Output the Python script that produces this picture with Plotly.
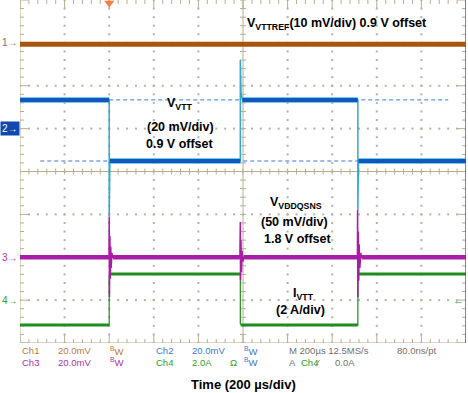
import plotly.graph_objects as go

# ---------------- data (time in µs, 200 µs/div, trigger at 0; amplitude in screen divisions) ----
ch1_t = [-400, 1600]
ch1_v = [2.97, 2.97]

ch2_t = [-400, 0, 0, 3, 588, 588, 591, 597, 1115, 1115, 1118, 1600]
ch2_v = [1.67, 1.67, -1.06, 0.245, 0.245, 2.6, 1.85, 1.67, 1.67, -0.9, 0.245, 0.245]

ch3_t = [-400, -1, 0, 1, 3, 5, 7, 9, 12, 16,
         586, 588, 589, 591, 593, 596, 599, 603,
         1113, 1114, 1115, 1117, 1119, 1121, 1124, 1128, 1132, 1600]
ch3_v = [-2.0, -2.0, -1.06, -2.93, -1.5, -2.5, -1.75, -2.25, -1.9, -2.0,
         -2.0, -1.18, -2.53, -1.6, -2.35, -1.85, -2.1, -2.0,
         -2.0, -0.9, -2.93, -1.4, -2.55, -1.7, -2.25, -1.9, -2.0, -2.0]

ch4_t = [-400, 0, 0, 3, 588, 588, 592, 1115, 1115, 1118, 1600]
ch4_v = [-3.58, -3.58, -2.45, -2.39, -2.39, -3.55, -3.58, -3.58, -2.45, -2.39, -2.39]

ref_hi_t = [0, 1520]
ref_hi_v = [1.67, 1.67]
ref_lo_t = [-309, 1574]
ref_lo_v = [0.245, 0.245]

ch_markers = [("1", 3.0), ("2", 1.0), ("3", -2.0), ("4", -3.0)]

row1 = [("Ch1", 20, "#C07838"), ("20.0mV", 56, "#C07838"), ("<sup>B</sup>W", 108, "#C07838"),
        ("Ch2", 154, "#3C78D0"), ("20.0mV", 190, "#3C78D0"), ("<sup>B</sup>W", 242, "#3C78D0"),
        ("M 200µs 12.5MS/s", 287, "#707070"), ("80.0ns/pt", 395, "#707070")]
row2 = [("Ch3", 20, "#B030B0"), ("20.0mV", 56, "#B030B0"), ("<sup>B</sup>W", 108, "#B030B0"),
        ("Ch4", 154, "#30A030"), ("2.0A", 190, "#30A030"), ("Ω", 228, "#30A030"),
        ("<sup>B</sup>W", 242, "#3C78D0"), ("A", 287, "#707070"), ("Ch4", 299, "#30A030"),
        ("⁄", 313, "#707070"), ("0.0A", 333, "#707070")]

# ---------------- geometry helpers ----------------
W, H = 468, 393
L, R, T, B = 20, 2, 0, 50
PW, PH = W - L - R, H - T - B
X0, X1 = -400, 1600
Y0, Y1 = -4, 4
upx = (X1 - X0) / PW      # µs per pixel
vpx = (Y1 - Y0) / PH      # div per pixel

def tx(px):
    return X0 + (px - L) * upx

def dy(py):
    return Y1 - (py - T) * vpx

def paper_x(px):
    return (px - L) / PW

def paper_y(py):
    return (T + PH - py) / PH

def flat_parts(ts, vs, min_dt=20):
    """Keep only the long (settled) segments of a trace, for the thick noisy band."""
    ox, oy = [], []
    for i in range(len(ts) - 1):
        if ts[i + 1] - ts[i] >= min_dt:
            ox += [ts[i], ts[i + 1], None]
            oy += [vs[i], vs[i + 1], None]
    return ox, oy

fig = go.Figure()

# grid dots
gx, gy = [], []
for j in [-3, -2, -1, 1, 2, 3]:
    for i in range(51):
        gx.append(X0 + i * 40); gy.append(j)
for k in [1, 2, 3, 4, 6, 7, 8, 9]:
    for m in range(41):
        gx.append(X0 + k * 200); gy.append(Y0 + m * 0.2)
fig.add_trace(go.Scatter(x=gx, y=gy, mode="markers",
                         marker=dict(size=2, color="#B4B0A4", symbol="square", line=dict(width=0)),
                         hoverinfo="skip"))

# frame + ticks
tick_col = "#B8AE90"
sx, sy = [], []
def seg(x0, y0, x1, y1):
    sx.extend([x0, x1, None]); sy.extend([y0, y1, None])

seg(X0, 0, X1, 0)
seg(600, Y0, 600, Y1)
seg(X0, Y0, X0, Y1)
seg(X0, Y0, X1, Y0)
for i in range(51):
    x = X0 + i * 40
    major = (i % 5 == 0)
    ln = 8 if major else 4
    seg(x, -3 * vpx, x, 3 * vpx)
    seg(x, Y0, x, Y0 + ln * vpx)
    seg(x, Y1, x, Y1 - ln * vpx)
for m in range(41):
    y = Y0 + m * 0.2
    major = (m % 5 == 0)
    ln = 8 if major else 4
    seg(600 - 3 * upx, y, 600 + 3 * upx, y)
    seg(X0, y, X0 + ln * upx, y)
    seg(X1, y, X1 - ln * upx, y)
fig.add_trace(go.Scatter(x=sx, y=sy, mode="lines", line=dict(color=tick_col, width=1),
                         hoverinfo="skip"))
fig.add_trace(go.Scatter(x=[X1, X1], y=[Y0, Y1], mode="lines",
                         line=dict(color="#6A6248", width=1.5), hoverinfo="skip"))

# reference dashed lines
for rt, rv in [(ref_hi_t, ref_hi_v), (ref_lo_t, ref_lo_v)]:
    fig.add_trace(go.Scatter(x=rt, y=rv, mode="lines",
                             line=dict(color="#3A78D8", width=1, dash="4px,3px"), hoverinfo="skip"))

# traces: thin line for full waveform (edges, spikes), thick band for settled parts
fig.add_trace(go.Scatter(x=ch1_t, y=ch1_v, mode="lines", line=dict(color="#A8560E", width=5)))

fig.add_trace(go.Scatter(x=ch4_t, y=ch4_v, mode="lines", line=dict(color="#1E8C1E", width=1.2)))
fx, fy = flat_parts(ch4_t, ch4_v)
fig.add_trace(go.Scatter(x=fx, y=fy, mode="lines", line=dict(color="#1E8C1E", width=3)))

fig.add_trace(go.Scatter(x=ch2_t, y=ch2_v, mode="lines", line=dict(color="#2FA8D0", width=1.5)))
fx, fy = flat_parts(ch2_t, ch2_v)
fig.add_trace(go.Scatter(x=fx, y=fy, mode="lines", line=dict(color="#3CC0E4", width=5.5)))
fig.add_trace(go.Scatter(x=fx, y=fy, mode="lines", line=dict(color="#1456BE", width=4)))

fig.add_trace(go.Scatter(x=ch3_t, y=ch3_v, mode="lines", line=dict(color="#A81CA8", width=1.5)))
fx, fy = flat_parts(ch3_t, ch3_v)
fig.add_trace(go.Scatter(x=fx, y=fy, mode="lines", line=dict(color="#A81CA8", width=4.5)))

# trigger position marker
fig.add_trace(go.Scatter(x=[0], y=[Y1 - 3 * vpx], mode="markers", cliponaxis=False,
                         marker=dict(symbol="triangle-down", size=9, color="#FF8040")))

ann = []
bold = dict(family="Liberation Sans, Arial, sans-serif", size=12.5, color="black")

def txt(text, px, py, anchor="center"):
    ann.append(dict(x=tx(px), y=dy(py), xref="x", yref="y", text=text, showarrow=False,
                    xanchor=anchor, yanchor="middle", font=bold))

txt("<b>V<sub>VTTREF</sub>(10 mV/div) 0.9 V offset</b>", 245, 24, "left")
txt("<b>V<sub>VTT</sub></b>", 180, 104)
txt("<b>(20 mV/div)</b>", 180, 127)
txt("<b>0.9 V offset</b>", 180, 144)
txt("<b>V<sub>VDDQSNS</sub></b>", 296, 203)
txt("<b>(50 mV/div)</b>", 294, 222)
txt("<b>1.8 V offset</b>", 298, 239)
txt("<b>I<sub>VTT</sub></b>", 303, 294)
txt("<b>(2 A/div)</b>", 300, 310)

# channel ground markers
mcol = {"1": "#707070", "3": "#B030B0", "4": "#30A030"}
for name, lvl in ch_markers:
    if name == "2":
        ann.append(dict(x=-0.0005, y=lvl, xref="paper", yref="y", text="2→", showarrow=False,
                        xanchor="right", yanchor="middle", bgcolor="#1048B0", borderpad=1,
                        font=dict(family="Liberation Sans, Arial", size=10, color="white")))
    else:
        ann.append(dict(x=0, y=lvl, xref="paper", yref="y", text=name + "→", showarrow=False,
                        xanchor="right", yanchor="middle",
                        font=dict(family="Liberation Sans, Arial", size=10, color=mcol[name])))
ann.append(dict(x=1, y=-3.0, xref="paper", yref="y", text="←", showarrow=False,
                xanchor="right", yanchor="middle",
                font=dict(family="Liberation Sans, Arial", size=11, color="#30A030")))

small = "Liberation Sans, Arial, sans-serif"
for items, py in [(row1, 351), (row2, 362)]:
    for text, px, col in items:
        ann.append(dict(x=paper_x(px), y=paper_y(py), xref="paper", yref="paper", text=text,
                        showarrow=False, xanchor="left", yanchor="middle",
                        font=dict(family=small, size=9.5, color=col)))

ann.append(dict(x=paper_x(243), y=paper_y(385), xref="paper", yref="paper",
                text="<b>Time (200 µs/div)</b>", showarrow=False, xanchor="center", yanchor="middle",
                font=dict(family=small, size=13, color="black")))

fig.update_layout(
    width=W, height=H, margin=dict(l=L, r=R, t=T, b=B),
    paper_bgcolor="white", plot_bgcolor="white", showlegend=False,
    xaxis=dict(range=[X0, X1], visible=False, fixedrange=True),
    yaxis=dict(range=[Y0, Y1], visible=False, fixedrange=True),
    annotations=ann,
)

fig.write_html("out.html", config={"displayModeBar": False},
               post_script="document.body.style.margin='0';document.body.style.overflow='hidden';")
